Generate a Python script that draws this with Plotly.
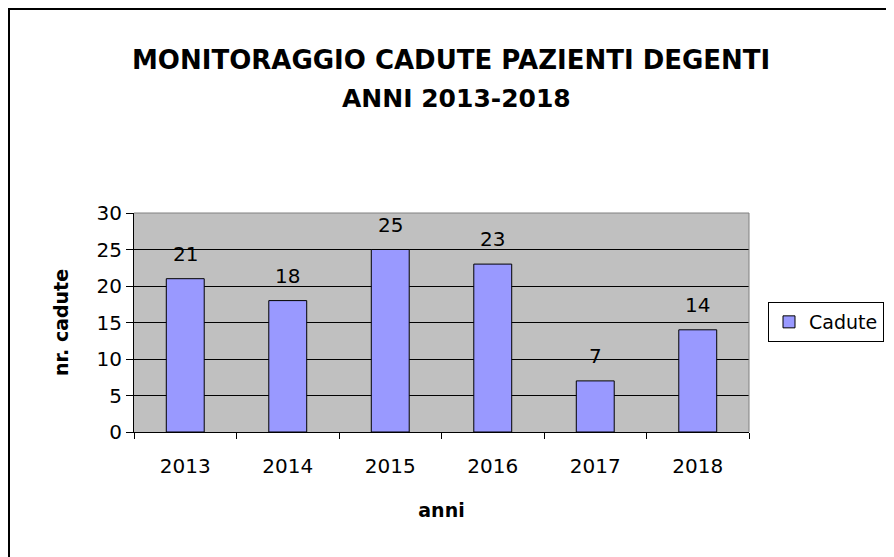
import plotly.graph_objects as go

anni = ["2013", "2014", "2015", "2016", "2017", "2018"]
cadute = [21, 18, 25, 23, 7, 14]
serie_nome = "Cadute"
titolo_1 = "MONITORAGGIO CADUTE PAZIENTI DEGENTI"
titolo_2 = "ANNI 2013-2018"
asse_x = "anni"
asse_y = "nr. cadute"
y_ticks = [0, 5, 10, 15, 20, 25, 30]

OFF = 8  # page body margin
W, H = 894 - OFF, 557 - OFF
L, R, T, B = 134, 749, 213, 432  # plot area in reference (screen) pixels


def px(x):
    return (x - L) / (R - L)


def py(y):
    return (B - y) / (B - T)


FONT = "DejaVu Sans"

fig = go.Figure()
fig.add_trace(go.Bar(
    x=anni, y=cadute, name=serie_nome,
    marker=dict(color="#9999FF", line=dict(color="black", width=1)),
    showlegend=True,
))

annotations = []
for i, v in enumerate(cadute):
    annotations.append(dict(x=i, y=v, xref="x", yref="y", text=str(v), showarrow=False,
                            yanchor="middle", yshift=25,
                            font=dict(family=FONT, size=20, color="black")))

annotations.append(dict(x=px(451), y=py(60), xref="paper", yref="paper", text=titolo_1,
                        showarrow=False, xanchor="center", yanchor="middle",
                        font=dict(family=FONT, size=26, color="black", weight="bold")))
annotations.append(dict(x=px(456), y=py(98), xref="paper", yref="paper", text=titolo_2,
                        showarrow=False, xanchor="center", yanchor="middle",
                        font=dict(family=FONT, size=25, color="black", weight="bold")))

shapes = [
    dict(type="line", xref="paper", yref="paper", x0=0, x1=1, y0=1, y1=1,
         line=dict(color="#808080", width=1), layer="above"),
    dict(type="line", xref="paper", yref="paper", x0=1, x1=1, y0=0, y1=1,
         line=dict(color="#808080", width=1), layer="above"),
    dict(type="line", xref="paper", yref="paper", x0=px(8), x1=px(900), y0=py(9), y1=py(9),
         line=dict(color="black", width=2)),
    dict(type="line", xref="paper", yref="paper", x0=px(9), x1=px(9), y0=py(8), y1=py(570),
         line=dict(color="black", width=2)),
]

fig.update_layout(
    width=W, height=H,
    margin=dict(l=L - OFF, r=W - (R - OFF), t=T - OFF, b=H - (B - OFF), autoexpand=False),
    paper_bgcolor="white",
    plot_bgcolor="#C0C0C0",
    bargap=0.63,
    font=dict(family=FONT, size=20, color="black"),
    annotations=annotations,
    shapes=shapes,
    showlegend=True,
    legend=dict(x=px(768), y=py(322), xanchor="left", yanchor="middle",
                bgcolor="white", bordercolor="black", borderwidth=1,
                font=dict(family=FONT, size=19, color="black"),
                itemwidth=30),
    xaxis=dict(
        type="category", range=[-0.5, len(anni) - 0.5],
        showline=True, linecolor="black", linewidth=1,
        ticks="outside", tickson="boundaries", ticklen=6, tickcolor="black",
        showgrid=False, tickangle=0, ticklabelstandoff=16,
        tickfont=dict(family=FONT, size=20, color="black"),
        title=dict(text=asse_x, standoff=26,
                   font=dict(family=FONT, size=19, color="black", weight="bold")),
    ),
    yaxis=dict(
        range=[0, 30], tickvals=y_ticks,
        showline=True, linecolor="black", linewidth=1,
        ticks="outside", ticklen=7, tickcolor="black",
        showgrid=True, gridcolor="black", gridwidth=1,
        zeroline=False,
        tickfont=dict(family=FONT, size=20, color="black"),
        title=dict(text=asse_y, standoff=22,
                   font=dict(family=FONT, size=19, color="black", weight="bold")),
    ),
)

fig.write_html("out.html")
